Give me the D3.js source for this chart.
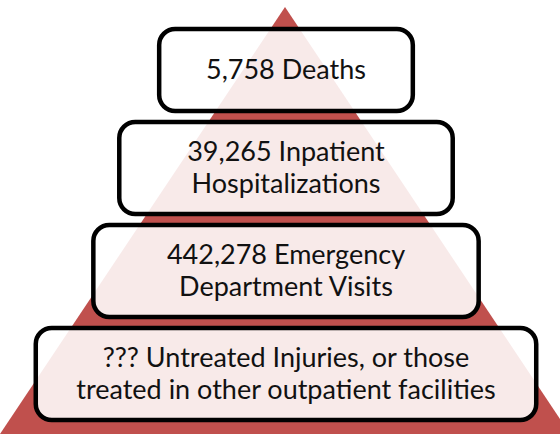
<!DOCTYPE html>
<html>
<head>
<meta charset="utf-8">
<script src="https://cdn.jsdelivr.net/npm/d3@7"></script>
<style>
  html, body { margin: 0; padding: 0; background: #fff; }
  svg { display: block; }
  .tier-label { font-family: Lato, "Open Sans", sans-serif; fill: #111; }
</style>
</head>
<body>
<svg id="pyramid"></svg>
<script>
const svg = d3.select("#pyramid");

const width = 560;
const height = 434;

// tiers, top to bottom
const tiers = ["deaths", "inpatient", "emergency", "untreated"];

const tierLines = {
  deaths: ["5,758 Deaths"],
  inpatient: ["39,265 Inpatient", "Hospitalizations"],
  emergency: ["442,278 Emergency", "Department Visits"],
  untreated: ["??? Untreated Injuries, or those", "treated in other outpatient facilities"]
};

// layout only (box widths as share of the pyramid base)
const boxShare = {
  deaths: 0.445,
  inpatient: 0.585,
  emergency: 0.676,
  untreated: 0.878
};

const pyramidColor = "#c0504d";
const lineHeight = 32;
const boxGap = 11;
const boxTop = 29;
const centerX = 286;

svg.attr("width", width).attr("height", height);

// pyramid coordinates: -1..1 across the base, 0 (apex) .. 1 (base) down
const x = d3.scaleLinear().domain([-1, 1]).range([0, 570]);
const y = d3.scaleLinear().domain([0, 1]).range([7, 434]);

const triangle = [[0, 0], [1, 1], [-1, 1]];

svg.append("path")
  .attr("d", d3.line().x(d => x(d[0])).y(d => y(d[1]))(triangle) + "Z")
  .attr("fill", pyramidColor);

// box heights depend on line count, stacked downward
const boxWidth = d3.scaleLinear().domain([0, 1]).range([0, 570]);
const boxHeight = key => 72 + tierLines[key].length * 10;

let nextTop = boxTop;
const boxes = tiers.map(key => {
  const h = boxHeight(key);
  const w = boxWidth(boxShare[key]);
  const box = { key, x: centerX - w / 2, y: nextTop, w, h };
  nextTop += h + boxGap;
  return box;
});

const groups = svg.selectAll("g.tier")
  .data(boxes)
  .enter()
  .append("g")
  .attr("class", "tier");

groups.append("rect")
  .attr("x", d => d.x)
  .attr("y", d => d.y)
  .attr("width", d => d.w)
  .attr("height", d => d.h)
  .attr("rx", 16)
  .attr("ry", 16)
  .attr("fill", "#fff")
  .attr("fill-opacity", 0.88)
  .attr("stroke", "#000")
  .attr("stroke-width", 4.5);

groups.each(function(d) {
  const lines = tierLines[d.key];
  const cy = d.y + d.h / 2;
  d3.select(this).selectAll("text")
    .data(lines)
    .enter()
    .append("text")
    .attr("class", "tier-label")
    .attr("x", centerX)
    .attr("y", (t, i) => cy + (i - (lines.length - 1) / 2) * lineHeight + 9)
    .attr("text-anchor", "middle")
    .attr("font-size", 27)
    .text(t => t);
});
</script>
</body>
</html>
